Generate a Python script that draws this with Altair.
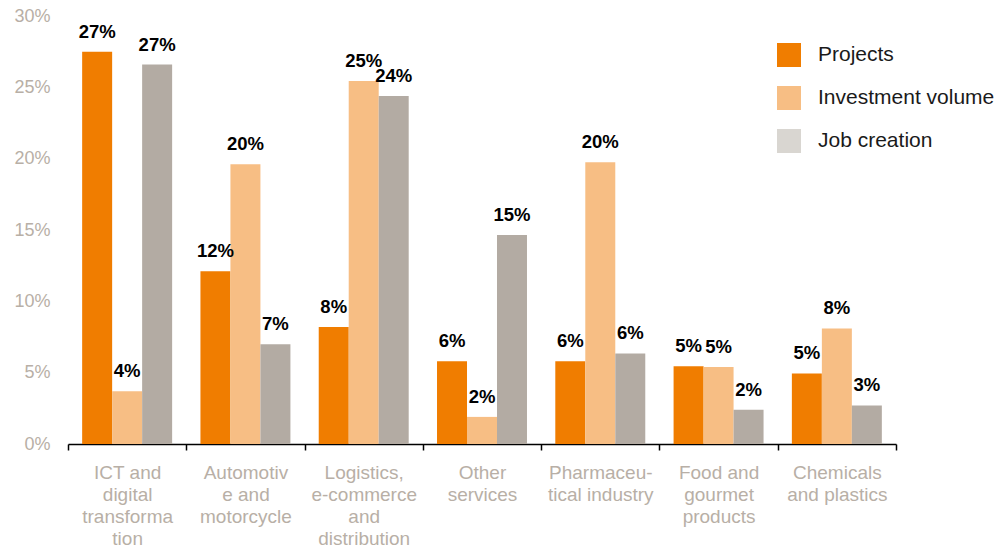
import altair as alt
import pandas as pd

categories = [
    "ICT and|digital|transforma|tion",
    "Automotiv|e and|motorcycle",
    "Logistics,|e-commerce|and|distribution",
    "Other|services",
    "Pharmaceu-|tical industry",
    "Food and|gourmet|products",
    "Chemicals|and plastics",
]
series = ["Projects", "Investment volume", "Job creation"]
projects = [27.49, 12.1, 8.2, 5.8, 5.8, 5.45, 4.95]
investment = [3.7, 19.6, 25.45, 1.9, 19.75, 5.4, 8.1]
jobs = [26.6, 7.0, 24.4, 14.65, 6.35, 2.4, 2.7]
y_ticks = [0, 5, 10, 15, 20, 25, 30]

bar_colors = ["#F07D00", "#F7BE84", "#B3ABA3"]
legend_colors = ["#F07D00", "#F7BE84", "#D9D6D1"]
axis_grey = "#B8AFA6"
FONT = "Liberation Sans"

rows = []
for i, c in enumerate(categories):
    for s, vals in zip(series, [projects, investment, jobs]):
        rows.append({"category": c, "series": s, "value": vals[i]})
df = pd.DataFrame(rows)

x = alt.X(
    "category:N",
    sort=categories,
    title=None,
    scale=alt.Scale(paddingInner=0, paddingOuter=0),
    axis=alt.Axis(
        labelExpr="split(datum.label, '|')",
        labelAngle=0,
        labelFont=FONT,
        labelFontSize=19,
        labelColor=axis_grey,
        labelLineHeight=22,
        labelPadding=13,
        labelBaseline="top",
        domainColor="#000000",
        domainWidth=1.5,
        tickColor="#000000",
        tickWidth=1.5,
        tickSize=6,
        tickBand="extent",
        labelLimit=200,
    ),
)
xoff = alt.XOffset("series:N", sort=series, scale=alt.Scale(paddingInner=0, paddingOuter=0.472))
y = alt.Y(
    "value:Q",
    title=None,
    scale=alt.Scale(domain=[0, 30], nice=False),
    axis=alt.Axis(
        values=y_ticks,
        labelExpr="datum.value + '%'",
        labelFont=FONT,
        labelFontSize=18,
        labelColor=axis_grey,
        labelPadding=18,
        ticks=False,
        domain=False,
        grid=False,
    ),
)

base = alt.Chart(df)

bars = base.mark_bar().encode(
    x=x,
    xOffset=xoff,
    y=y,
    color=alt.Color("series:N", sort=series, scale=alt.Scale(domain=series, range=bar_colors), legend=None),
)

labels = base.transform_calculate(label="round(datum.value) + '%'").mark_text(
    font=FONT, fontSize=18.5, fontWeight="bold", color="#000000", baseline="alphabetic", dy=-14
).encode(x=x, xOffset=xoff, y=y, text="label:N")

legend_layer = base.mark_square(opacity=0).encode(
    x=x,
    xOffset=xoff,
    y=y,
    fill=alt.Fill(
        "series:N",
        sort=series,
        scale=alt.Scale(domain=series, range=legend_colors),
        legend=alt.Legend(
            title=None,
            orient="none",
            legendX=709,
            legendY=27,
            symbolType="square",
            symbolSize=576,
            symbolOpacity=1,
            symbolStrokeWidth=0,
            labelFont=FONT,
            labelFontSize=21,
            labelColor="#1A1A1A",
            labelOffset=17,
            rowPadding=19,
            labelLimit=300,
            padding=0,
        ),
    ),
)

chart = (
    alt.layer(bars, labels, legend_layer)
    .resolve_scale(color="independent", fill="independent")
    .properties(
        width=828,
        height=428,
        autosize=alt.AutoSizeParams(type="none"),
        padding={"left": 60, "top": 8, "right": 99, "bottom": 106},
    )
    .configure_view(stroke=None)
)

chart.save("out.html", embed_options={"renderer": "svg", "actions": False})
